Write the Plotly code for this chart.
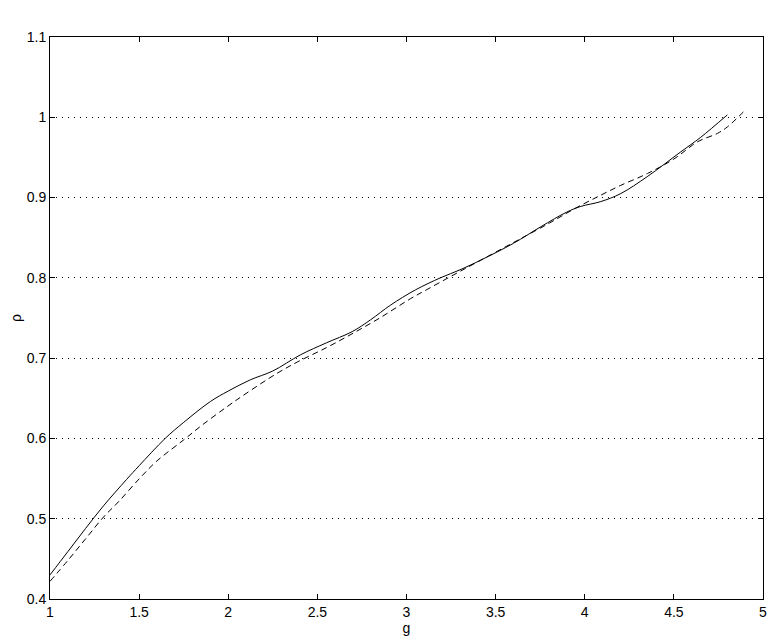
import plotly.graph_objects as go

# Solid curve
g_solid = [1.0, 1.1, 1.2, 1.3, 1.43, 1.5, 1.646, 1.75, 1.9, 2.0, 2.124, 2.25, 2.404, 2.55,
           2.695, 2.8, 2.91, 3.05, 3.19, 3.3, 3.416, 3.6, 3.753, 3.9, 3.978, 4.09, 4.202,
           4.35, 4.539, 4.65, 4.8]
rho_solid = [0.43, 0.459, 0.488, 0.516, 0.549, 0.566, 0.600, 0.620, 0.646, 0.659, 0.673,
             0.684, 0.704, 0.719, 0.733, 0.748, 0.766, 0.785, 0.800, 0.810, 0.822, 0.843,
             0.8636, 0.882, 0.889, 0.895, 0.905, 0.926, 0.957, 0.975, 1.003]

# Dashed curve
g_dash = [1.0, 1.1, 1.2, 1.3, 1.384, 1.506, 1.6, 1.749, 1.85, 1.993, 2.1, 2.273, 2.39, 2.55,
          2.7, 2.85, 3.022, 3.116, 3.25, 3.4, 3.6, 3.8, 3.95, 4.09, 4.2, 4.352, 4.5, 4.633,
          4.745, 4.80, 4.905]
rho_dash = [0.422, 0.448, 0.475, 0.502, 0.521, 0.551, 0.572, 0.598, 0.616, 0.6395, 0.656,
            0.681, 0.6955, 0.713, 0.731, 0.750, 0.774, 0.7856, 0.802, 0.820, 0.844, 0.868,
            0.887, 0.903, 0.915, 0.93, 0.948, 0.9695, 0.98, 0.988, 1.01]

x_ticks = [1, 1.5, 2, 2.5, 3, 3.5, 4, 4.5, 5]
x_ticklabels = ["1", "1.5", "2", "2.5", "3", "3.5", "4", "4.5", "5"]
y_ticks = [0.4, 0.5, 0.6, 0.7, 0.8, 0.9, 1.0, 1.1]
y_ticklabels = ["0.4", "0.5", "0.6", "0.7", "0.8", "0.9", "1", "1.1"]

fig = go.Figure()
fig.add_trace(go.Scatter(x=g_solid, y=rho_solid, mode="lines",
                         line=dict(color="black", width=1), line_shape="spline",
                         showlegend=False))
fig.add_trace(go.Scatter(x=g_dash, y=rho_dash, mode="lines",
                         line=dict(color="black", width=1, dash="6px,4px"),
                         line_shape="spline", showlegend=False))

font = dict(family="Liberation Sans, Arial, sans-serif", size=14, color="black")
fig.update_layout(
    width=767, height=634,
    margin=dict(l=42, r=12, t=29, b=43, autoexpand=False),
    paper_bgcolor="white", plot_bgcolor="white",
    font=font,
    xaxis=dict(range=[1, 5], tickvals=x_ticks, ticktext=x_ticklabels,
               showgrid=False, zeroline=False, showline=True, linecolor="black",
               linewidth=1, mirror="ticks", ticks="inside", ticklen=5,
               tickcolor="black", automargin=False,
               title=dict(text="g", standoff=2, font=dict(size=14, color="black"))),
    yaxis=dict(range=[0.4, 1.1], tickvals=y_ticks, ticktext=y_ticklabels,
               showgrid=True, gridcolor="black", gridwidth=1, griddash="1px,5px",
               zeroline=False, showline=True, linecolor="black", linewidth=1,
               mirror="ticks", ticks="inside", ticklen=5, tickcolor="black",
               automargin=False,
               title=dict(text="ρ", standoff=6, font=dict(size=14, color="black"))),
)

fig.write_html("out.html")
